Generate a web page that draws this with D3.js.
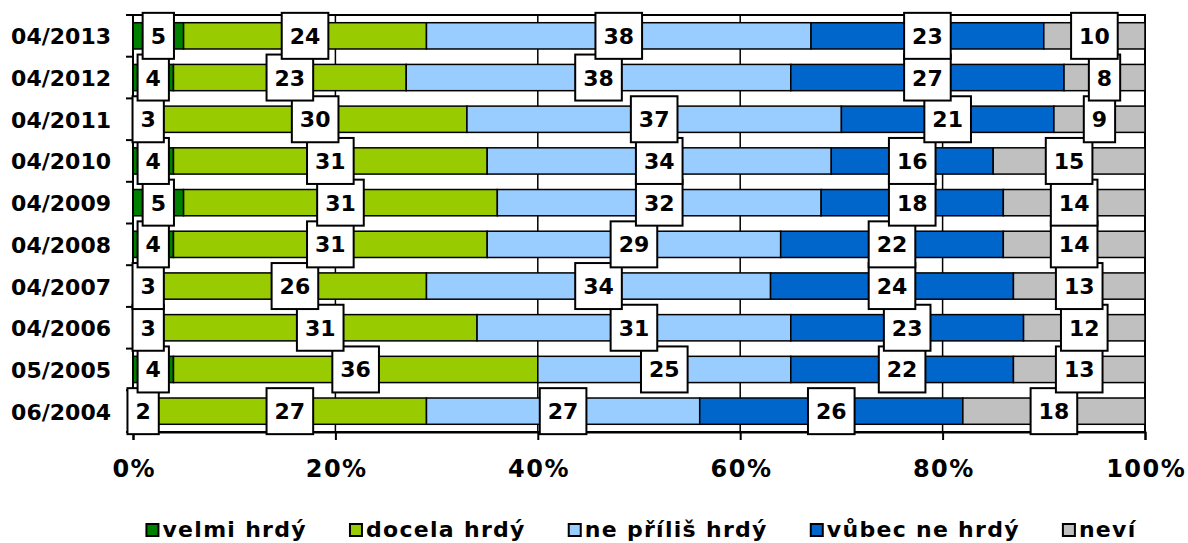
<!DOCTYPE html>
<html>
<head>
<meta charset="utf-8">
<script src="https://cdn.jsdelivr.net/npm/d3@7"></script>
<style>
  html, body { margin: 0; padding: 0; background: #fff; }
  svg { display: block; font-family: "DejaVu Sans", Verdana, sans-serif; font-weight: bold; }
</style>
</head>
<body>
<svg id="chart" width="1188" height="543"></svg>
<script>
// ---- data ----
const categories = ["04/2013","04/2012","04/2011","04/2010","04/2009","04/2008","04/2007","04/2006","05/2005","06/2004"];
const seriesNames = ["velmi hrdý","docela hrdý","ne příliš hrdý","vůbec ne hrdý","neví"];
const velmiHrdy   = [5, 4, 3, 4, 5, 4, 3, 3, 4, 2];
const docelaHrdy  = [24, 23, 30, 31, 31, 31, 26, 31, 36, 27];
const nePriliHrdy = [38, 38, 37, 34, 32, 29, 34, 31, 25, 27];
const vubecNeHrdy = [23, 27, 21, 16, 18, 22, 24, 23, 22, 26];
const nevi        = [10, 8, 9, 15, 14, 14, 13, 12, 13, 18];
const xTicks = [0, 20, 40, 60, 80, 100];
const xTickLabels = ["0%","20%","40%","60%","80%","100%"];
const colors = ["#008000","#99CC00","#99CCFF","#0066CC","#C0C0C0"];

const seriesValues = [velmiHrdy, docelaHrdy, nePriliHrdy, vubecNeHrdy, nevi];

(function () {
const svg = d3.select("#chart");
const pLeft = 133, pRight = 1145, pTop = 15, pBottom = 432;

const x = d3.scaleLinear().domain([0, 100]).range([pLeft, pRight]);
const y = d3.scaleBand().domain(categories).range([pTop, pBottom]).paddingInner(0.37).paddingOuter(0.185);
const yOuter = d3.scaleBand().domain(categories).range([pTop, pBottom]);

const rows = categories.map((c, i) => {
  let acc = 0;
  return seriesValues.map((vals, s) => {
    const seg = { cat: c, s, v: vals[i], x0: acc, x1: acc + vals[i] };
    acc += vals[i];
    return seg;
  });
});

// frame
svg.append("rect").attr("x", pLeft).attr("y", pTop).attr("width", pRight - pLeft).attr("height", pBottom - pTop)
  .attr("fill", "none").attr("stroke", "#000").attr("stroke-width", 2);

// gridlines
svg.append("g").selectAll("line").data(xTicks.slice(1, -1)).join("line")
  .attr("x1", d => x(d)).attr("x2", d => x(d)).attr("y1", pTop).attr("y2", pBottom)
  .attr("stroke", "#000").attr("stroke-width", 1.5);

// bars
svg.append("g").selectAll("g").data(rows).join("g")
  .selectAll("rect").data(d => d).join("rect")
  .attr("x", d => x(d.x0)).attr("width", d => x(d.x1) - x(d.x0))
  .attr("y", d => y(d.cat)).attr("height", y.bandwidth())
  .attr("fill", d => colors[d.s]).attr("stroke", "#000").attr("stroke-width", 1.5);

// x axis
const xAxis = d3.axisBottom(x).tickValues(xTicks).tickFormat((d, i) => xTickLabels[i]).tickSize(8).tickPadding(20);
const gx = svg.append("g").attr("transform", `translate(0,${pBottom})`).call(xAxis);
gx.select(".domain").attr("stroke-width", 2);
gx.selectAll(".tick line").attr("stroke-width", 2);
gx.selectAll("text").attr("font-size", 24).attr("font-weight", "bold").attr("font-family", "DejaVu Sans")
  .attr("letter-spacing", 1.5).attr("dx", 0.75).attr("fill", "#000");

// y axis line + ticks at band boundaries
svg.append("line").attr("x1", pLeft).attr("x2", pLeft).attr("y1", pTop).attr("y2", pBottom).attr("stroke", "#000").attr("stroke-width", 2);
const boundaries = categories.map(c => yOuter(c)).concat([pBottom]);
svg.append("g").selectAll("line").data(boundaries).join("line")
  .attr("x1", pLeft - 7).attr("x2", pLeft).attr("y1", d => d).attr("y2", d => d)
  .attr("stroke", "#000").attr("stroke-width", 2);
svg.append("g").selectAll("text").data(categories).join("text")
  .attr("x", 111).attr("y", d => y(d) + y.bandwidth() / 2 + 8.5)
  .attr("text-anchor", "end").attr("font-size", 22).attr("fill", "#000")
  .text(d => d);

// labels
const labelsG = svg.append("g");
rows.slice().reverse().forEach(segs => {
  segs.forEach(d => {
    const cx = x((d.x0 + d.x1) / 2);
    const cy = y(d.cat) + y.bandwidth() / 2;
    const g = labelsG.append("g");
    const r = g.append("rect");
    const t = g.append("text").attr("x", cx).attr("y", cy + 8).attr("text-anchor", "middle")
      .attr("font-size", 22).attr("fill", "#000").text(d.v);
    const w = t.node().getComputedTextLength() + 16;
    r.attr("x", cx - w / 2).attr("y", cy - 23).attr("width", w).attr("height", 46)
      .attr("fill", "#fff").attr("stroke", "#000").attr("stroke-width", 2);
  });
});

// legend
const legend = svg.append("g");
let lx = 0;
const gap = 42;
seriesNames.forEach((n, i) => {
  const g = legend.append("g").attr("transform", `translate(${lx},0)`);
  g.append("rect").attr("x", 1).attr("y", 524).attr("width", 12).attr("height", 12)
    .attr("fill", colors[i]).attr("stroke", "#000").attr("stroke-width", 2);
  const t = g.append("text").attr("x", 17).attr("y", 537).attr("font-size", 22)
    .attr("letter-spacing", 1.3).attr("fill", "#000").text(n);
  const w = 17 + t.node().getComputedTextLength();
  lx += w + gap;
});
const totalW = lx - gap;
legend.attr("transform", `translate(${641 - totalW / 2},0)`);
})();
</script>
</body>
</html>
